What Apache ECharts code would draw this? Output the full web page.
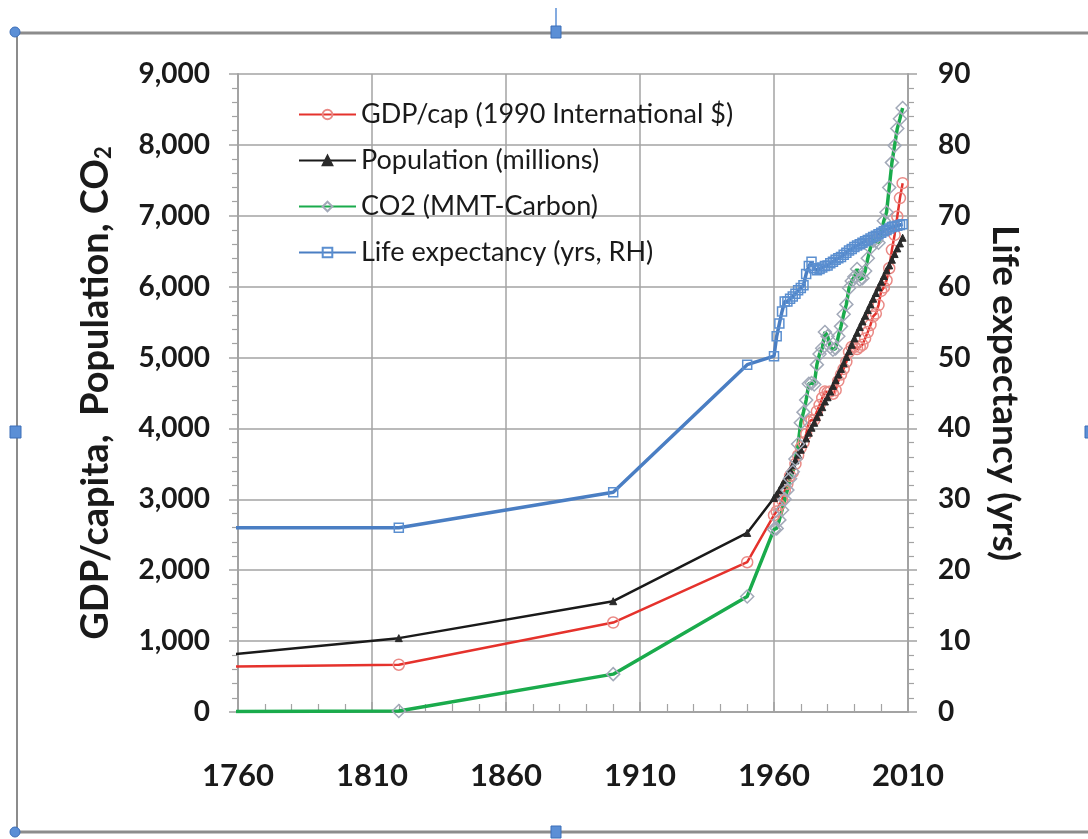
<!DOCTYPE html>
<html>
<head>
<meta charset="utf-8">
<title>GDP, population, CO2 and life expectancy</title>
<script src="https://cdn.jsdelivr.net/npm/echarts@6/dist/echarts.min.js"></script>
<style>
  html, body { margin: 0; padding: 0; background: #fff; }
  #main { width: 1088px; height: 839px; }
</style>
</head>
<body>
<div id="main"></div>
<script>
// years of the data points (1700 sits left of the axis and gets clipped)
var years = [1700, 1820, 1900, 1950,
  1960, 1961, 1962, 1963, 1964, 1965, 1966, 1967, 1968, 1969,
  1970, 1971, 1972, 1973, 1974, 1975, 1976, 1977, 1978, 1979,
  1980, 1981, 1982, 1983, 1984, 1985, 1986, 1987, 1988, 1989,
  1990, 1991, 1992, 1993, 1994, 1995, 1996, 1997, 1998, 1999,
  2000, 2001, 2002, 2003, 2004, 2005, 2006, 2007, 2008];

// GDP per capita, 1990 international $
var gdpPerCap = [615, 667, 1262, 2113,
  2777, 2830, 2920, 2990, 3120, 3220, 3330, 3380, 3500, 3620,
  3730, 3800, 3920, 4090, 4120, 4120, 4240, 4330, 4430, 4520,
  4510, 4520, 4490, 4540, 4670, 4760, 4840, 4940, 5080, 5150,
  5150, 5120, 5150, 5180, 5270, 5360, 5460, 5580, 5620, 5740,
  5940, 5990, 6090, 6260, 6520, 6730, 6990, 7250, 7460];

// population, millions
var population = [603, 1042, 1563, 2526,
  3020, 3070, 3130, 3200, 3270, 3340, 3410, 3480, 3550, 3630,
  3700, 3780, 3860, 3940, 4010, 4080, 4160, 4230, 4300, 4380,
  4440, 4520, 4600, 4680, 4760, 4840, 4920, 5010, 5090, 5180,
  5270, 5350, 5430, 5510, 5590, 5670, 5750, 5830, 5910, 5990,
  6070, 6150, 6230, 6300, 6380, 6460, 6540, 6610, 6690];

// CO2, MMT carbon
var co2 = [3, 14, 534, 1630,
  2577, 2590, 2710, 2850, 3000, 3130, 3290, 3390, 3570, 3780,
  4080, 4230, 4400, 4630, 4640, 4620, 4900, 5050, 5130, 5360,
  5300, 5150, 5110, 5130, 5300, 5440, 5610, 5750, 5980, 6080,
  6140, 6250, 6100, 6120, 6220, 6400, 6550, 6650, 6640, 6620,
  6760, 6930, 7050, 7400, 7750, 7990, 8230, 8370, 8520];

// life expectancy, years (right axis)
var lifeExp = [26, 26, 31, 49,
  50.2, 53, 54.8, 56.5, 57.9, 57.9, 58.3, 58.6, 59.0, 59.5,
  59.8, 60.2, 61.8, 62.9, 63.5, 62.6, 62.3, 62.5, 62.7, 62.9,
  63.0, 63.3, 63.5, 63.8, 64.0, 64.2, 64.5, 64.8, 65.1, 65.3,
  65.6, 65.8, 66.0, 66.2, 66.4, 66.6, 66.8, 67.0, 67.2, 67.4,
  67.6, 67.8, 68.0, 68.2, 68.4, 68.5, 68.6, 68.7, 68.8];

var seriesNames = [
  "GDP/cap (1990 International $)",
  "Population (millions)",
  "CO2 (MMT-Carbon)",
  "Life expectancy (yrs, RH)"
];

function pairs(values) {
  return years.map(function (y, i) { return [y, values[i]]; });
}

var FONT = "Lato, 'Open Sans', sans-serif";
var GRID_GRAY = "#a3a3a3";
var HANDLE = "#5b8fd6";

var option = {
  backgroundColor: "#fff",
  animation: false,
  grid: { left: 238, right: 180, top: 74, bottom: 127 },
  legend: {
    orient: "vertical",
    left: 293,
    top: 96,
    itemWidth: 57,
    itemHeight: 12,
    itemGap: 19,
    data: seriesNames,
    textStyle: { fontFamily: FONT, fontSize: 27, lineHeight: 27, color: "#1a1a1a" }
  },
  xAxis: {
    type: "value",
    min: 1760,
    max: 2010,
    interval: 50,
    axisLine: { lineStyle: { color: GRID_GRAY, width: 2 } },
    axisTick: { inside: true, length: 10, lineStyle: { color: GRID_GRAY, width: 1.5 } },
    minorTick: { show: true, splitNumber: 5, length: 8, lineStyle: { color: GRID_GRAY, width: 1.2 } },
    splitLine: { show: true, lineStyle: { color: GRID_GRAY, width: 1.5 } },
    axisLabel: {
      margin: 48,
      fontFamily: FONT,
      fontSize: 31,
      fontWeight: "bold",
      color: "#1a1a1a",
      formatter: function (v) { return String(v); }
    }
  },
  yAxis: [
    {
      type: "value",
      min: 0,
      max: 9000,
      interval: 1000,
      name: "GDP/capita,  Population, CO{sub|2}",
      nameLocation: "middle",
      nameRotate: 90,
      nameGap: 123,
      nameTextStyle: {
        fontFamily: FONT,
        fontSize: 38,
        fontWeight: "bold",
        color: "#1a1a1a",
        rich: {
          sub: { fontFamily: FONT, fontSize: 22, fontWeight: "bold", color: "#1a1a1a", padding: [16, 0, 0, 0] }
        }
      },
      axisLine: { show: true, lineStyle: { color: GRID_GRAY, width: 2 } },
      axisTick: { show: true, length: 9, lineStyle: { color: GRID_GRAY, width: 1.5 } },
      minorTick: { show: true, splitNumber: 5, length: 6, lineStyle: { color: GRID_GRAY, width: 1.2 } },
      splitLine: { show: true, lineStyle: { color: GRID_GRAY, width: 1.5 } },
      axisLabel: {
        margin: 28,
        fontFamily: FONT,
        fontSize: 28,
        fontWeight: "bold",
        color: "#1a1a1a",
        formatter: function (v) { return v.toLocaleString("en-US"); }
      }
    },
    {
      type: "value",
      min: 0,
      max: 90,
      interval: 10,
      position: "right",
      name: "Life expectancy (yrs)",
      nameLocation: "middle",
      nameRotate: -90,
      nameGap: 78,
      nameTextStyle: { fontFamily: FONT, fontSize: 37, fontWeight: "bold", color: "#1a1a1a" },
      axisLine: { show: true, lineStyle: { color: GRID_GRAY, width: 2 } },
      axisTick: { show: true, length: 9, lineStyle: { color: GRID_GRAY, width: 1.5 } },
      minorTick: { show: true, splitNumber: 5, length: 6, lineStyle: { color: GRID_GRAY, width: 1.2 } },
      splitLine: { show: false },
      axisLabel: {
        margin: 30,
        fontFamily: FONT,
        fontSize: 28,
        fontWeight: "bold",
        color: "#1a1a1a"
      }
    }
  ],
  series: [
    {
      name: seriesNames[0],
      type: "line",
      data: pairs(gdpPerCap),
      symbol: "circle",
      symbolSize: 11,
      lineStyle: { color: "#e5322c", width: 2.5 },
      itemStyle: { color: "rgba(255,255,255,0)", borderColor: "#ea8a86", borderWidth: 1.5 }
    },
    {
      name: seriesNames[1],
      type: "line",
      data: pairs(population),
      symbol: "triangle",
      symbolSize: 7,
      lineStyle: { color: "#1a1a1a", width: 2.5 },
      itemStyle: { color: "#2a2a2a", borderColor: "#2a2a2a", borderWidth: 1 }
    },
    {
      name: seriesNames[2],
      type: "line",
      data: pairs(co2),
      symbol: "diamond",
      symbolSize: 13,
      lineStyle: { color: "#1aab4c", width: 3.5 },
      itemStyle: { color: "rgba(255,255,255,0)", borderColor: "#a2a9b8", borderWidth: 1.5 }
    },
    {
      name: seriesNames[3],
      type: "line",
      yAxisIndex: 1,
      data: pairs(lifeExp),
      symbol: "rect",
      symbolSize: 9,
      lineStyle: { color: "#4a7ec3", width: 3.5 },
      itemStyle: { color: "rgba(255,255,255,0)", borderColor: "#5b8fd0", borderWidth: 1.5 }
    }
  ],
  // selection frame around the picture
  graphic: [
    { type: "line", shape: { x1: 14, y1: 33, x2: 1088, y2: 33 }, style: { stroke: "#8c8c8c", lineWidth: 3 } },
    { type: "line", shape: { x1: 17, y1: 33, x2: 17, y2: 832 }, style: { stroke: "#8c8c8c", lineWidth: 2 } },
    { type: "line", shape: { x1: 14, y1: 832, x2: 1088, y2: 832 }, style: { stroke: "#8c8c8c", lineWidth: 3 } },
    { type: "line", shape: { x1: 556, y1: 8, x2: 556, y2: 30 }, style: { stroke: HANDLE, lineWidth: 1.5 } },
    { type: "circle", shape: { cx: 15, cy: 32, r: 5 }, style: { fill: HANDLE, stroke: "#3d6fb8", lineWidth: 1 } },
    { type: "rect", shape: { x: 551, y: 26, width: 10, height: 12 }, style: { fill: HANDLE, stroke: "#3d6fb8", lineWidth: 1 } },
    { type: "rect", shape: { x: 10, y: 426, width: 11, height: 12 }, style: { fill: HANDLE, stroke: "#3d6fb8", lineWidth: 1 } },
    { type: "rect", shape: { x: 551, y: 826, width: 10, height: 12 }, style: { fill: HANDLE, stroke: "#3d6fb8", lineWidth: 1 } },
    { type: "circle", shape: { cx: 15, cy: 832, r: 5 }, style: { fill: HANDLE, stroke: "#3d6fb8", lineWidth: 1 } },
    { type: "rect", shape: { x: 1085, y: 426, width: 6, height: 12 }, style: { fill: HANDLE, stroke: "#3d6fb8", lineWidth: 1 } }
  ]
};

var myChart = echarts.init(document.getElementById("main"));
myChart.setOption(option);
</script>
</body>
</html>
